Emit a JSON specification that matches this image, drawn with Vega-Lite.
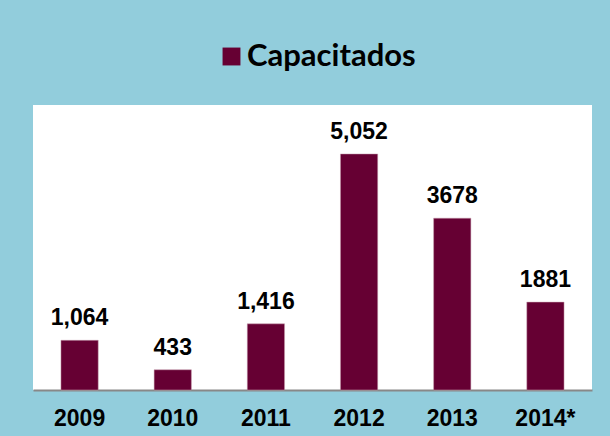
{
  "$schema": "https://vega.github.io/schema/vega-lite/v6.json",
  "width": 559,
  "height": 285,
  "autosize": {"type": "none"},
  "padding": {"left": 33, "top": 105, "right": 18, "bottom": 46},
  "background": "#92CDDC",
  "config": {
    "view": {"fill": "#FFFFFF", "stroke": null}
  },
  "data": {
    "values": [
      {"year": "2009", "value": 1064, "label": "1,064", "serie": "Capacitados"},
      {"year": "2010", "value": 433, "label": "433", "serie": "Capacitados"},
      {"year": "2011", "value": 1416, "label": "1,416", "serie": "Capacitados"},
      {"year": "2012", "value": 5052, "label": "5,052", "serie": "Capacitados"},
      {"year": "2013", "value": 3678, "label": "3678", "serie": "Capacitados"},
      {"year": "2014*", "value": 1881, "label": "1881", "serie": "Capacitados"}
    ]
  },
  "encoding": {
    "x": {
      "field": "year",
      "type": "nominal",
      "sort": null,
      "scale": {"paddingInner": 0.6, "paddingOuter": 0.3},
      "axis": {
        "title": null,
        "labelAngle": 0,
        "labelFont": "Liberation Sans",
        "labelFontWeight": "bold",
        "labelFontSize": 23,
        "labelColor": "#000000",
        "labelPadding": 17,
        "ticks": false,
        "domainColor": "#888888",
        "domainWidth": 2
      }
    },
    "y": {
      "field": "value",
      "type": "quantitative",
      "scale": {"domain": [0, 6100], "nice": false},
      "axis": null
    }
  },
  "layer": [
    {
      "mark": {"type": "bar", "stroke": "#C8A0B0", "strokeWidth": 0.5},
      "encoding": {
        "color": {
          "field": "serie",
          "type": "nominal",
          "scale": {"range": ["#660033"]},
          "legend": {
            "title": null,
            "orient": "none",
            "legendX": 183,
            "legendY": -64,
            "symbolType": "square",
            "symbolSize": 320,
            "symbolStrokeWidth": 0,
            "labelFont": "Lato",
            "labelFontWeight": "bold",
            "labelFontSize": 31,
            "labelColor": "#000000",
            "labelOffset": 0,
            "labelLimit": 400
          }
        }
      }
    },
    {
      "mark": {
        "type": "text",
        "font": "Liberation Sans",
        "fontWeight": "bold",
        "fontSize": 23,
        "baseline": "alphabetic",
        "dy": -15,
        "color": "#000000"
      },
      "encoding": {"text": {"field": "label"}}
    }
  ]
}
